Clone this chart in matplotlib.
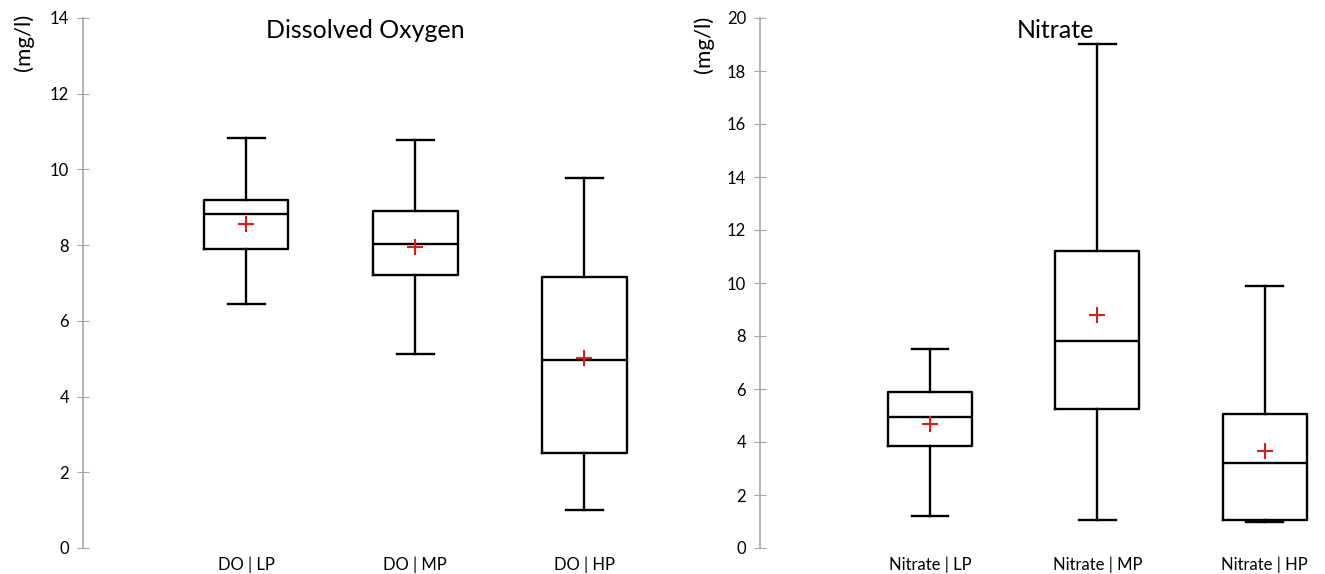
import matplotlib
matplotlib.use("Agg")
import matplotlib.pyplot as plt

plt.rcParams['font.family'] = ['Lato', 'DejaVu Sans']

# Dissolved oxygen (mg/l)
do_labels = ['DO | LP', 'DO | MP', 'DO | HP']
do_whislo = [6.44, 5.12, 1.00]
do_q1 = [7.90, 7.21, 2.51]
do_med = [8.82, 8.03, 4.97]
do_q3 = [9.19, 8.90, 7.16]
do_whishi = [10.83, 10.78, 9.77]
do_mean = [8.56, 7.95, 5.02]

# Nitrate (mg/l)
no_labels = ['Nitrate | LP', 'Nitrate | MP', 'Nitrate | HP']
no_whislo = [1.21, 1.06, 0.98]
no_q1 = [3.85, 5.25, 1.06]
no_med = [4.94, 7.81, 3.21]
no_q3 = [5.89, 11.21, 5.06]
no_whishi = [7.51, 19.02, 9.89]
no_mean = [4.68, 8.79, 3.66]


def make_stats(labels, lo, q1, med, q3, hi, mean):
    out = []
    for i in range(len(labels)):
        out.append(dict(label=labels[i], whislo=lo[i], q1=q1[i], med=med[i],
                        q3=q3[i], whishi=hi[i], mean=mean[i], fliers=[]))
    return out


def draw_panel(ax, stats, ymax, xlim):
    line = dict(color='black', linewidth=1.7)
    ax.bxp(stats, positions=[1, 2, 3], widths=0.5, showmeans=True,
           boxprops=line, medianprops=line, whiskerprops=line, capprops=line,
           capwidths=0.22,
           meanprops=dict(marker='+', markeredgecolor='#d62020',
                          markersize=12, markeredgewidth=1.5))
    ax.set_ylim(0, ymax)
    ax.set_xlim(*xlim)
    ax.set_yticks(range(0, ymax + 1, 2))
    for s in ['top', 'right', 'bottom']:
        ax.spines[s].set_visible(False)
    ax.spines['left'].set_color('#a6a6a6')
    ax.spines['left'].set_linewidth(1.2)
    ax.tick_params(axis='y', direction='inout', length=8, color='#a6a6a6',
                   labelsize=12, pad=6)
    ax.tick_params(axis='x', length=0, labelsize=12, pad=6)


fig = plt.figure(figsize=(13.25, 5.74), dpi=100)
ax1 = fig.add_axes([83 / 1325, 1 - 548 / 574, 586 / 1325, 530 / 574])
ax2 = fig.add_axes([760 / 1325, 1 - 548 / 574, 560 / 1325, 530 / 574])

draw_panel(ax1, make_stats(do_labels, do_whislo, do_q1, do_med, do_q3, do_whishi, do_mean),
           14, (0.035, 3.5))
draw_panel(ax2, make_stats(no_labels, no_whislo, no_q1, no_med, no_q3, no_whishi, no_mean),
           20, (-0.015, 3.33))

fig.text(365 / 1325, 1 - 30 / 574, 'Dissolved Oxygen', ha='center', va='center', fontsize=18)
fig.text(1055 / 1325, 1 - 30 / 574, 'Nitrate', ha='center', va='center', fontsize=18)

fig.text(24 / 1325, 1 - 14 / 574, '(mg/l)', rotation=90, ha='center', va='top', fontsize=16)
fig.text(704 / 1325, 1 - 16 / 574, '(mg/l)', rotation=90, ha='center', va='top', fontsize=16)

fig.savefig('out.png', dpi=100)
